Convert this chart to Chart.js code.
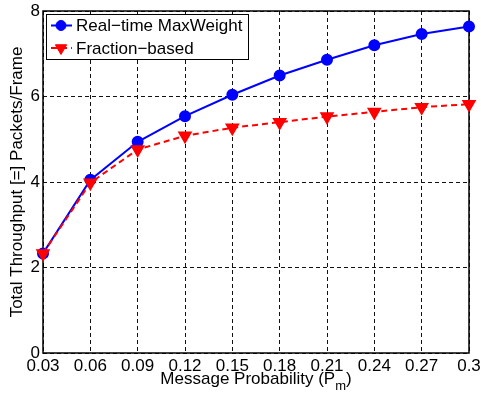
<!DOCTYPE html>
<html>
<head>
<meta charset="utf-8">
<script src="https://cdn.jsdelivr.net/npm/chart.js@4.4.0/dist/chart.umd.min.js"></script>
<style>
    html, body { margin: 0; padding: 0; background: #fff; }
    #wrap { width: 481px; height: 396px; }
</style>
</head>
<body>
<div id="wrap"><canvas id="chartThroughput"></canvas></div>
<script>
    // values
    const probLabels = ['0.03', '0.06', '0.09', '0.12', '0.15', '0.18', '0.21', '0.24', '0.27', '0.3'];
    const maxWeight = [2.33, 4.05, 4.94, 5.54, 6.04, 6.49, 6.86, 7.20, 7.46, 7.64];
    const fractionBased = [2.33, 3.98, 4.76, 5.08, 5.27, 5.40, 5.53, 5.64, 5.75, 5.82];
    const seriesNames = ['Real\u2212time MaxWeight', 'Fraction\u2212based'];
    const yTicks = [0, 2, 4, 6, 8];
    const yTitle = 'Total Throughput [=] Packets/Frame';
    const xTitle = 'Message Probability (P';
    const xTitleSub = 'm';

    const FONT = '"Liberation Sans", Arial, sans-serif';

    // box around the plot, like matlab axes
    const boxPlugin = {
        id: 'box',
        beforeDatasetsDraw(chart) {
            const a = chart.chartArea;
            const ctx = chart.ctx;
            ctx.save();
            ctx.setLineDash([]);
            ctx.strokeStyle = '#000';
            ctx.lineWidth = 1.5;
            ctx.strokeRect(a.left, a.top, a.right - a.left, a.bottom - a.top);
            ctx.restore();
        }
    };

    // x title with subscript + legend box in the upper left corner
    const extrasPlugin = {
        id: 'extras',
        afterDraw(chart) {
            const a = chart.chartArea;
            const ctx = chart.ctx;
            ctx.save();

            ctx.fillStyle = '#000';
            ctx.textBaseline = 'alphabetic';
            ctx.textAlign = 'left';
            ctx.font = '17px ' + FONT;
            const w1 = ctx.measureText(xTitle).width;
            ctx.font = '13px ' + FONT;
            const w2 = ctx.measureText(xTitleSub).width;
            ctx.font = '17px ' + FONT;
            const w3 = ctx.measureText(')').width;
            let x = (a.left + a.right) / 2 - (w1 + w2 + w3) / 2;
            const base = 384;
            ctx.fillText(xTitle, x, base);
            x += w1;
            ctx.font = '13px ' + FONT;
            ctx.fillText(xTitleSub, x, base + 6);
            x += w2;
            ctx.font = '17px ' + FONT;
            ctx.fillText(')', x, base);

            // legend
            const bx = a.left + 3, by = a.top + 3, bw = 202, bh = 45;
            ctx.fillStyle = '#fff';
            ctx.fillRect(bx, by, bw, bh);
            ctx.strokeStyle = '#000';
            ctx.lineWidth = 1;
            ctx.strokeRect(bx + 0.5, by + 0.5, bw, bh);

            const ds = chart.data.datasets;
            const rows = [by + 11.5, by + 34];
            ds.forEach(function (d, i) {
                const y = rows[i];
                ctx.strokeStyle = d.borderColor;
                ctx.lineWidth = 2;
                ctx.setLineDash(d.borderDash || []);
                ctx.beginPath();
                ctx.moveTo(bx + 5, y);
                ctx.lineTo(bx + 26, y);
                ctx.stroke();
                ctx.setLineDash([]);
                ctx.fillStyle = d.pointBackgroundColor;
                ctx.strokeStyle = d.pointBorderColor;
                ctx.lineWidth = 1;
                Chart.helpers.drawPoint(ctx, {
                    pointStyle: d.pointStyle,
                    rotation: d.pointRotation || 0,
                    radius: d.pointRadius,
                    borderWidth: 1
                }, bx + 15, y);
                ctx.fillStyle = '#000';
                ctx.font = '17px ' + FONT;
                ctx.textBaseline = 'middle';
                ctx.fillText(d.label, bx + 30, y + 1);
            });
            ctx.restore();
        }
    };

    const ctx = document.getElementById('chartThroughput');
    const data = {
        labels: probLabels,
        datasets: [{
            label: seriesNames[0],
            data: maxWeight,
            borderColor: 'rgb(0,0,255)',
            backgroundColor: 'rgb(0,0,255)',
            pointBackgroundColor: 'rgb(0,0,255)',
            pointBorderColor: 'rgb(0,0,255)',
            borderWidth: 2,
            pointStyle: 'circle',
            pointRadius: 5,
            tension: 0,
            clip: false,
            order: 2
        }, {
            label: seriesNames[1],
            data: fractionBased,
            borderColor: 'rgb(255,0,0)',
            backgroundColor: 'rgb(255,0,0)',
            pointBackgroundColor: 'rgb(255,0,0)',
            pointBorderColor: 'rgb(255,0,0)',
            borderWidth: 2,
            borderDash: [6, 4],
            pointStyle: 'triangle',
            pointRotation: 180,
            pointRadius: 6.5,
            tension: 0,
            clip: false,
            order: 1
        }]
    };

    const config = {
        type: 'line',
        data: data,
        options: {
            responsive: true,
            maintainAspectRatio: false,
            animation: false,
            layout: {
                padding: {top: 11, right: 12, left: 0, bottom: 0}
            },
            plugins: {
                legend: {display: false},
                tooltip: {enabled: false}
            },
            scales: {
                x: {
                    type: 'category',
                    offset: false,
                    grid: {color: '#111', lineWidth: 1, drawTicks: false},
                    border: {display: false, dash: [4, 3]},
                    ticks: {
                        padding: 3,
                        color: '#000',
                        font: {family: FONT, size: 17},
                        maxRotation: 0,
                        autoSkip: false
                    },
                    afterFit: function (s) {
                        s.height = 43;
                        s.paddingLeft = 0;
                        s.paddingRight = 0;
                    }
                },
                y: {
                    min: yTicks[0],
                    max: yTicks[yTicks.length - 1],
                    grid: {color: '#111', lineWidth: 1, drawTicks: false},
                    border: {display: false, dash: [4, 3]},
                    ticks: {
                        stepSize: 2,
                        padding: 3,
                        color: '#000',
                        font: {family: FONT, size: 17}
                    },
                    title: {
                        display: true,
                        text: yTitle,
                        color: '#000',
                        font: {family: FONT, size: 17},
                        padding: {top: 7, bottom: 0}
                    },
                    afterFit: function (s) {
                        s.width = 43;
                        s.paddingTop = 0;
                        s.paddingBottom = 0;
                    }
                }
            }
        },
        plugins: [boxPlugin, extrasPlugin]
    };
    const myChart = new Chart(ctx, config);
</script>
</body>
</html>
